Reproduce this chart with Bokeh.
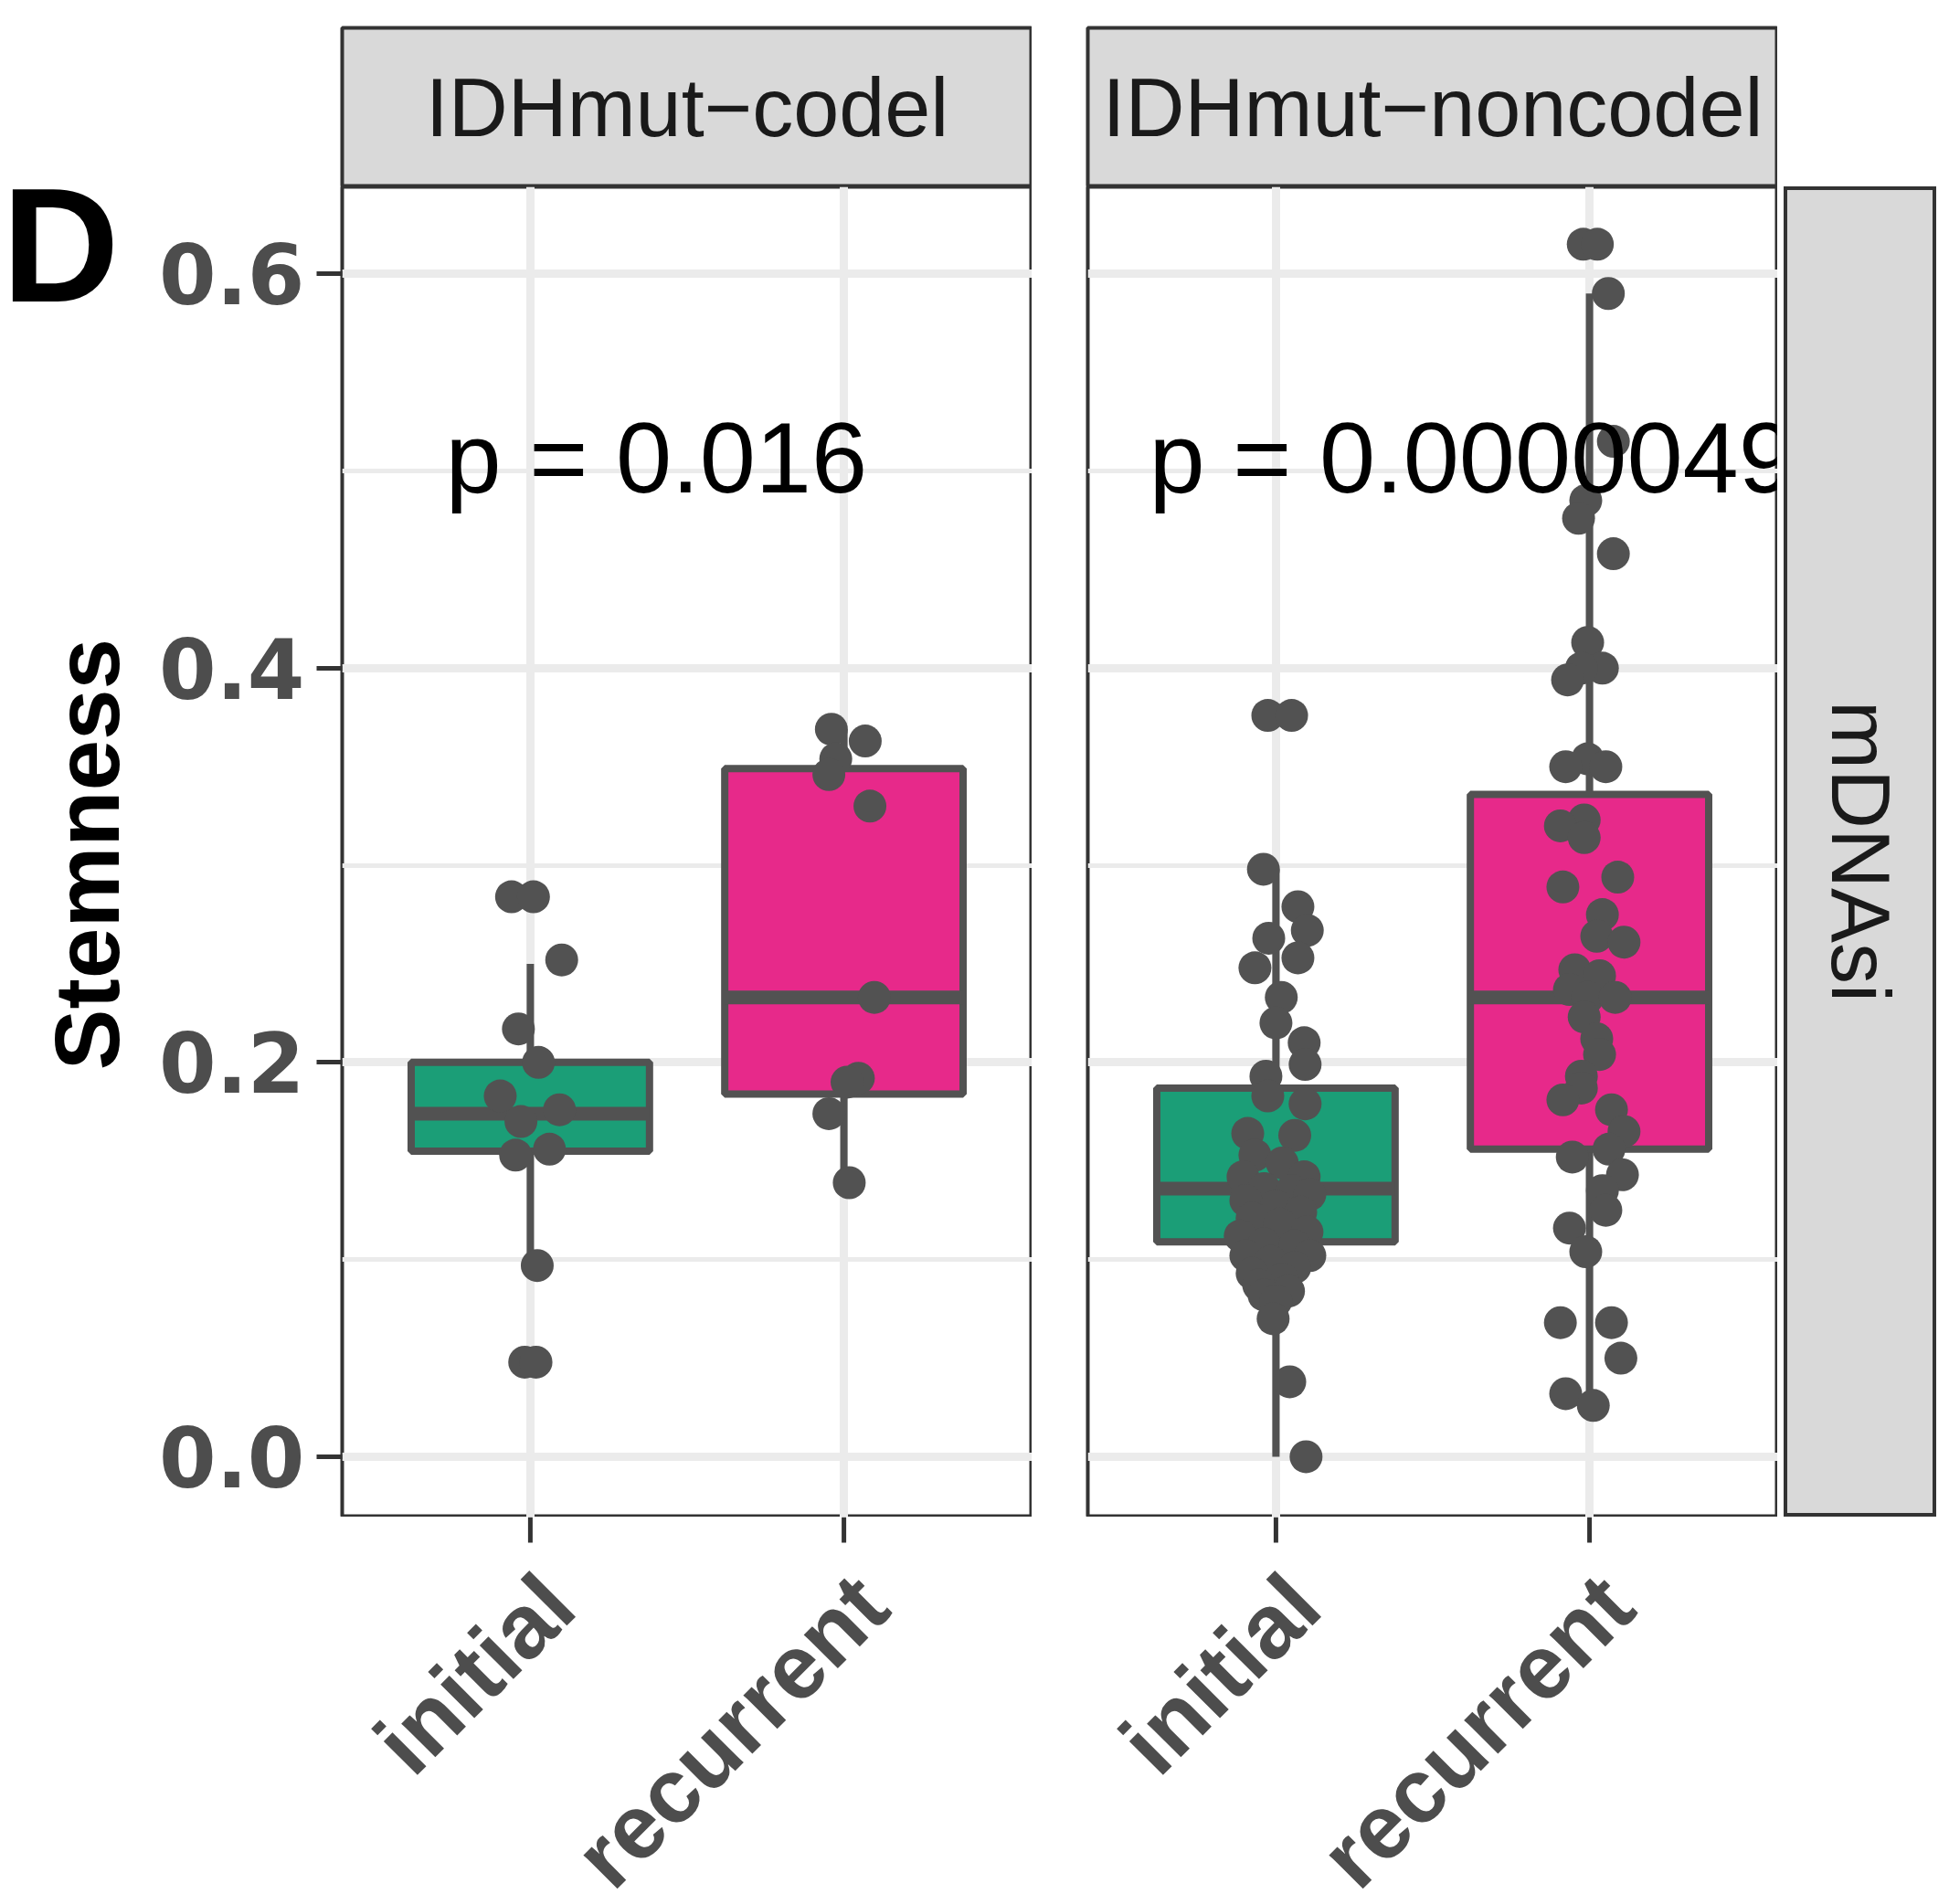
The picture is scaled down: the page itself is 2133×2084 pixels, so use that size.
import math
from bokeh.plotting import figure
from bokeh.models import Range1d, LinearAxis, Grid, FixedTicker, ColumnDataSource, Spacer, Div
from bokeh.layouts import row, column
from bokeh.embed import file_html
from bokeh.resources import INLINE
from bokeh.core.properties import value

# ---------------- data ----------------
subtypes = ["IDHmut\u2212codel", "IDHmut\u2212noncodel"]
stages = ["initial", "recurrent"]
facet_row = "mDNAsi"
y_label = "Stemness"
panel_letter = "D"
p_values = ["p = 0.016", "p = 0.0000049"]
y_ticks = [0.0, 0.2, 0.4, 0.6]
y_minor = [0.1, 0.3, 0.5]
y_tick_labels = ["0.0", "0.2", "0.4", "0.6"]

# box stats: lower whisker, q1, median, q3, upper whisker
codel_initial_box = [0.097, 0.155, 0.174, 0.200, 0.250]
codel_recurrent_box = [0.139, 0.184, 0.233, 0.349, 0.369]
noncodel_initial_box = [0.000, 0.109, 0.136, 0.187, 0.298]
noncodel_recurrent_box = [0.026, 0.156, 0.233, 0.336, 0.590]

# jittered sample points (value, horizontal jitter)
codel_initial_values = [0.284, 0.284, 0.252, 0.217, 0.200, 0.183, 0.176, 0.170,
                        0.153, 0.156, 0.097, 0.048, 0.048]
codel_initial_jitter = [-0.06, 0.01, 0.10, -0.038, 0.026, -0.096, 0.093, -0.03,
                        -0.047, 0.061, 0.022, -0.018, 0.018]

codel_recurrent_values = [0.369, 0.363, 0.354, 0.346, 0.330, 0.233, 0.192, 0.190, 0.174, 0.139]
codel_recurrent_jitter = [-0.04, 0.068, -0.026, -0.048, 0.083, 0.097, 0.046, 0.01, -0.048, 0.017]

noncodel_initial_values = [0.376, 0.376, 0.298, 0.279, 0.267, 0.263, 0.253, 0.248, 0.233, 0.220,
                           0.210, 0.199, 0.193, 0.183, 0.179, 0.164, 0.163,
                           0.153, 0.149, 0.142, 0.142, 0.136, 0.135, 0.133, 0.130, 0.127, 0.124,
                           0.121, 0.118, 0.114, 0.112, 0.108, 0.107, 0.102, 0.102, 0.099, 0.096,
                           0.093, 0.090, 0.087, 0.084, 0.082, 0.079, 0.070, 0.038, 0.000]
noncodel_initial_jitter = [-0.026, 0.05, -0.04, 0.07, 0.10, -0.023, 0.07, -0.067, 0.017, 0.0,
                           0.09, 0.093, -0.032, -0.026, 0.093, -0.09, 0.06,
                           -0.067, 0.02, -0.105, 0.09, -0.038, 0.05, 0.108, -0.096, 0.0, 0.079,
                           -0.076, 0.012, 0.099, -0.114, -0.038, 0.06, 0.108, -0.096, -0.017, 0.06,
                           -0.076, 0.02, -0.055, 0.04, -0.038, 0.0, -0.009, 0.044, 0.096]

noncodel_recurrent_values = [0.615, 0.615, 0.590, 0.515, 0.485, 0.476, 0.458, 0.413, 0.400, 0.400,
                             0.394, 0.354, 0.350, 0.350, 0.323, 0.320, 0.314, 0.294, 0.289, 0.275,
                             0.264, 0.261, 0.247, 0.244, 0.237, 0.233, 0.233, 0.223, 0.212, 0.204,
                             0.193, 0.187, 0.181, 0.176, 0.165, 0.156, 0.152, 0.143, 0.135, 0.125,
                             0.116, 0.104, 0.068, 0.068, 0.050, 0.032, 0.026]
noncodel_recurrent_jitter = [-0.02, 0.025, 0.06, 0.076, -0.012, -0.035, 0.076, -0.006, 0.041, -0.026,
                             -0.07, -0.006, -0.076, 0.052, -0.017, -0.093, -0.017, 0.09, -0.085, 0.041,
                             0.023, 0.11, -0.047, 0.032, -0.064, -0.006, 0.082, -0.017, 0.023, 0.032,
                             -0.026, -0.026, -0.085, 0.07, 0.11, 0.062, -0.055, 0.105, 0.041, 0.052,
                             -0.064, -0.012, -0.093, 0.07, 0.10, -0.076, 0.012]

stage_colors = ["#1B9E77", "#E7298A"]

panels = [
    dict(boxes=[codel_initial_box, codel_recurrent_box],
         values=[codel_initial_values, codel_recurrent_values],
         jitter=[codel_initial_jitter, codel_recurrent_jitter],
         p_x=0.729),
    dict(boxes=[noncodel_initial_box, noncodel_recurrent_box],
         values=[noncodel_initial_values, noncodel_recurrent_values],
         jitter=[noncodel_initial_jitter, noncodel_recurrent_jitter],
         p_x=0.595),
]
p_y = 0.507

# ---------------- style / layout ----------------
FONT = "Liberation Sans"
DARK = "#333333"
GREY = "#4d4d4d"
PT = "#525252"
FRAME_W, FRAME_H = 755, 1456
STRIP_H = 174
TOP_PAD = 30
YR = (-0.0306, 0.6441)
XR = (0.4, 2.6)
GAP = 61
LEFT_FIG = 160
AXIS_W = 214
TICK_LEN = 28
LAB_H = 424
LAB_SHIFT = 0.0875      # label anchor sits slightly right of its tick (as in the reference)
TOTAL_H = TOP_PAD + STRIP_H + FRAME_H + LAB_H
D_H = 340


def base_fig(fw, fh, xr, yr, left=0, top=0, bottom=0):
    f = figure(frame_width=fw, frame_height=fh, x_range=xr, y_range=yr,
               x_axis_location=None, y_axis_location=None,
               output_backend="svg", toolbar_location=None)
    f.min_border = 0
    f.min_border_left = left
    f.min_border_right = 0
    f.min_border_top = top
    f.min_border_bottom = bottom
    f.border_fill_color = "white"
    f.grid.visible = False
    return f


def plain_axis(ax, tick_out=0):
    ax.axis_line_color = None
    ax.major_tick_in = 0
    ax.major_tick_out = tick_out
    ax.major_tick_line_color = DARK if tick_out else None
    ax.major_tick_line_width = 5
    ax.minor_tick_line_color = None
    return ax


def make_panel(i, info, xr):
    left = AXIS_W if i == 0 else GAP
    p = base_fig(FRAME_W, FRAME_H, xr, Range1d(*YR), left=left)
    p.background_fill_color = "white"
    p.outline_line_color = DARK
    p.outline_line_width = 4

    gy = Grid(dimension=1, ticker=FixedTicker(ticks=y_ticks, minor_ticks=y_minor),
              grid_line_color="#ebebeb", grid_line_width=9,
              minor_grid_line_color="#ebebeb", minor_grid_line_width=5)
    gx = Grid(dimension=0, ticker=FixedTicker(ticks=[1, 2], minor_ticks=[]),
              grid_line_color="#ebebeb", grid_line_width=9)
    p.add_layout(gy)
    p.add_layout(gx)

    if i == 0:
        ya = LinearAxis(ticker=FixedTicker(ticks=y_ticks, minor_ticks=[]),
                        major_label_overrides={t: l for t, l in zip(y_ticks, y_tick_labels)})
        plain_axis(ya, TICK_LEN)
        ya.major_label_standoff = 13
        ya.major_label_text_font = "DejaVu Sans"
        ya.major_label_text_font_style = "bold"
        ya.major_label_text_font_size = "90px"
        ya.major_label_text_color = GREY
        p.add_layout(ya, "left")

    for k in range(2):
        lo, q1, med, q3, hi = info["boxes"][k]
        xc = k + 1
        p.segment(x0=[xc, xc], y0=[lo, q3], x1=[xc, xc], y1=[q1, hi],
                  line_color=PT, line_width=8)
        p.vbar(x=[xc], width=0.76, bottom=[q1], top=[q3],
               fill_color=stage_colors[k], line_color=PT, line_width=8)
        p.segment(x0=[xc - 0.38], x1=[xc + 0.38], y0=[med], y1=[med],
                  line_color=PT, line_width=15)
        src = ColumnDataSource(dict(
            x=[xc + j for j in info["jitter"][k]],
            y=info["values"][k]))
        p.scatter("x", "y", source=src, size=36, fill_color=PT, line_color=None)

    p.text(x=[info["p_x"]], y=[p_y], text=[p_values[i]],
           text_font=value(FONT), text_font_size=value("110px"), text_color="black",
           text_align="left", text_baseline="middle")
    return p


def make_xlabels(i, xr):
    # tick marks + rotated category labels below a panel
    left = AXIS_W if i == 0 else GAP
    f = base_fig(FRAME_W, LAB_H, xr, Range1d(LAB_H, 0), left=left)
    f.outline_line_color = None
    f.background_fill_color = None
    # tick marks at the category positions
    f.segment(x0=[1, 2], x1=[1, 2], y0=[0, 0], y1=[TICK_LEN, TICK_LEN],
              line_color=DARK, line_width=5)
    f.extra_x_ranges = {"lab": Range1d(XR[0] - LAB_SHIFT, XR[1] - LAB_SHIFT)}
    xa = LinearAxis(ticker=FixedTicker(ticks=[1, 2], minor_ticks=[]),
                    major_label_overrides={1: stages[0], 2: stages[1]},
                    fixed_location=0, x_range_name="lab")
    plain_axis(xa, 0)
    xa.major_label_orientation = math.pi / 4
    xa.major_label_standoff = 80
    xa.major_label_text_font = FONT
    xa.major_label_text_font_style = "bold"
    xa.major_label_text_font_size = "99px"
    xa.major_label_text_color = GREY
    f.add_layout(xa, "below")
    return f


def make_strip(label, left, width, height, top):
    s = base_fig(width, height, Range1d(0, 1), Range1d(0, 1), left=left, top=top)
    s.background_fill_color = "#d9d9d9"
    s.outline_line_color = DARK
    s.outline_line_width = 4
    s.text(x=[0.5], y=[0.5], text=[label],
           text_font=value(FONT), text_font_size=value("90px"), text_color="#1a1a1a",
           text_align="center", text_baseline="middle")
    return s


def make_letter():
    f = base_fig(LEFT_FIG, D_H, Range1d(0, LEFT_FIG), Range1d(D_H, 0))
    f.outline_line_color = None
    f.background_fill_color = None
    f.text(x=[130], y=[268], text=[panel_letter],
           text_font=value(FONT), text_font_style="bold", text_font_size=value("178px"),
           text_color="black", text_align="right", text_baseline="middle")
    return f


def make_ylabel_div():
    h = TOTAL_H - D_H
    html = ('<div style="position:relative;width:%dpx;height:%dpx;">'
            '<span style="position:absolute;left:95px;top:%dpx;'
            'transform:translate(-50%%,-50%%) rotate(-90deg);white-space:nowrap;'
            'font-family:\'Liberation Sans\';font-weight:bold;font-size:100px;'
            'line-height:1;color:#000000;">%s</span></div>') % (LEFT_FIG, h, 935 - D_H, y_label)
    return Div(text=html, width=LEFT_FIG, height=h, margin=(0, 0, 0, 0))


def make_row_strip_div():
    html = ('<div style="position:relative;margin-left:7px;width:167px;height:%dpx;'
            'box-sizing:border-box;background:#d9d9d9;border:4px solid %s;">'
            '<span style="position:absolute;left:50%%;top:50%%;'
            'transform:translate(-50%%,-50%%) rotate(90deg);white-space:nowrap;'
            'font-family:\'Liberation Sans\';font-size:90px;line-height:1;'
            'color:#1a1a1a;">%s</span></div>') % (FRAME_H, DARK, facet_row)
    return Div(text=html, width=174, height=FRAME_H, margin=(0, 0, 0, 0))


xr1 = Range1d(*XR)
xr2 = Range1d(*XR)
p1 = make_panel(0, panels[0], xr1)
p2 = make_panel(1, panels[1], xr2)
l1 = make_xlabels(0, xr1)
l2 = make_xlabels(1, xr2)
s1 = make_strip(subtypes[0], AXIS_W, FRAME_W, STRIP_H, TOP_PAD)
s2 = make_strip(subtypes[1], GAP, FRAME_W, STRIP_H, TOP_PAD)
letter = make_letter()
ylab = make_ylabel_div()
s3 = make_row_strip_div()

layout = row(column(letter, ylab),
             column(s1, p1, l1),
             column(s2, p2, l2),
             column(Spacer(width=174, height=STRIP_H + TOP_PAD, margin=(0, 0, 0, 0)), s3))

open("out.html", "w").write(file_html(layout, INLINE))
